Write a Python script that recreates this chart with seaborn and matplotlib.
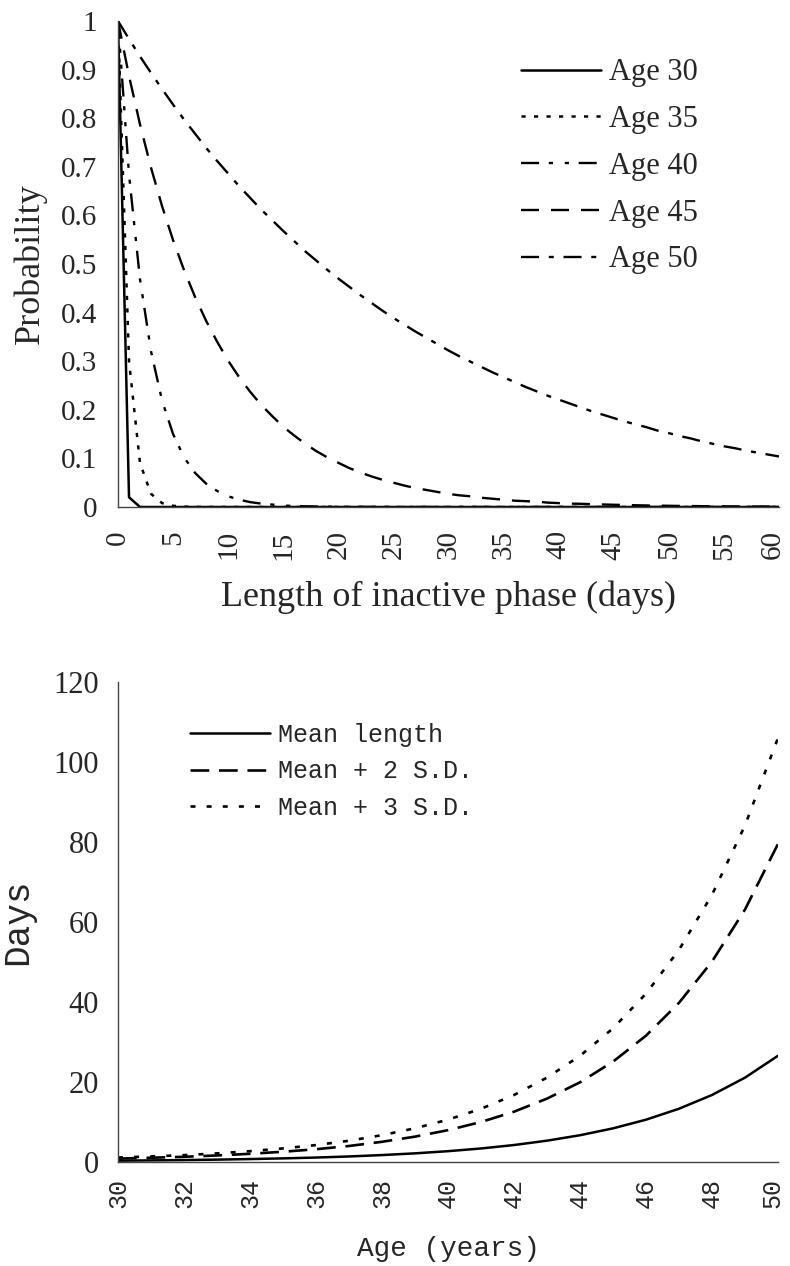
import matplotlib
matplotlib.use("Agg")
import matplotlib.pyplot as plt
from matplotlib.ticker import MultipleLocator, FixedLocator, FuncFormatter
from matplotlib.transforms import ScaledTranslation
import seaborn as sns
import pandas as pd

# ---------------- data: top panel (probability vs length of inactive phase) ----------------
days = list(range(61))
age30 = [1.0, 0.02, 0, 0, 0, 0, 0, 0, 0, 0,
         0, 0, 0, 0, 0, 0, 0, 0, 0, 0,
         0, 0, 0, 0, 0, 0, 0, 0, 0, 0,
         0, 0, 0, 0, 0, 0, 0, 0, 0, 0,
         0, 0, 0, 0, 0, 0, 0, 0, 0, 0,
         0, 0, 0, 0, 0, 0, 0, 0, 0, 0, 0]
age35 = [1.0, 0.30, 0.09, 0.027, 0.008, 0.0025, 0.0007, 0.0002, 0, 0,
         0, 0, 0, 0, 0, 0, 0, 0, 0, 0,
         0, 0, 0, 0, 0, 0, 0, 0, 0, 0,
         0, 0, 0, 0, 0, 0, 0, 0, 0, 0,
         0, 0, 0, 0, 0, 0, 0, 0, 0, 0,
         0, 0, 0, 0, 0, 0, 0, 0, 0, 0, 0]
age40 = [1.0, 0.684, 0.468, 0.320, 0.219, 0.150, 0.102, 0.070, 0.048, 0.033,
         0.022, 0.015, 0.010, 0.007, 0.005, 0.003, 0.002, 0.0015, 0.001, 0.0007,
         0.0005, 0.0003, 0.0002, 0.0001, 0, 0, 0, 0, 0, 0,
         0, 0, 0, 0, 0, 0, 0, 0, 0, 0,
         0, 0, 0, 0, 0, 0, 0, 0, 0, 0,
         0, 0, 0, 0, 0, 0, 0, 0, 0, 0, 0]
age45 = [1.0, 0.887, 0.787, 0.698, 0.619, 0.549, 0.487, 0.432, 0.383, 0.340,
         0.301, 0.267, 0.237, 0.210, 0.187, 0.165, 0.147, 0.130, 0.115, 0.102,
         0.091, 0.080, 0.071, 0.063, 0.056, 0.050, 0.044, 0.039, 0.035, 0.031,
         0.027, 0.024, 0.022, 0.019, 0.017, 0.015, 0.013, 0.012, 0.011, 0.009,
         0.008, 0.007, 0.0066, 0.0058, 0.0052, 0.0046, 0.0041, 0.0036, 0.0032, 0.0028,
         0.0025, 0.0022, 0.0020, 0.0017, 0.0015, 0.0014, 0.0012, 0.0011, 0.0010, 0.0009, 0.0008]
age50 = [1.0, 0.963, 0.927, 0.893, 0.860, 0.828, 0.797, 0.768, 0.739, 0.712,
         0.686, 0.660, 0.636, 0.612, 0.590, 0.568, 0.547, 0.526, 0.507, 0.488,
         0.470, 0.453, 0.436, 0.420, 0.404, 0.389, 0.375, 0.361, 0.348, 0.335,
         0.322, 0.310, 0.299, 0.288, 0.277, 0.267, 0.257, 0.247, 0.238, 0.229,
         0.221, 0.213, 0.205, 0.197, 0.190, 0.183, 0.176, 0.170, 0.164, 0.157,
         0.152, 0.146, 0.141, 0.135, 0.130, 0.125, 0.121, 0.116, 0.112, 0.108, 0.104]
top_labels = ["Age 30", "Age 35", "Age 40", "Age 45", "Age 50"]
top_xticks = [0, 5, 10, 15, 20, 25, 30, 35, 40, 45, 50, 55, 60]
top_yticks = [0, 0.1, 0.2, 0.3, 0.4, 0.5, 0.6, 0.7, 0.8, 0.9, 1]

# ---------------- data: bottom panel (days vs age) ----------------
ages = list(range(30, 51))
mean_len = [0.26, 0.33, 0.41, 0.52, 0.66, 0.83, 1.04, 1.31, 1.66, 2.09,
             2.63, 3.31, 4.17, 5.26, 6.62, 8.34, 10.51, 13.25, 16.69, 21.03, 26.5]
mean_2sd = [0.78, 0.99, 1.23, 1.56, 1.98, 2.49, 3.12, 3.93, 4.98, 6.27,
            7.89, 9.93, 12.51, 15.78, 19.86, 25.02, 31.53, 39.75, 50.07, 63.09, 79.5]
mean_3sd = [1.04, 1.32, 1.64, 2.08, 2.64, 3.32, 4.16, 5.24, 6.64, 8.36,
            10.52, 13.24, 16.68, 21.04, 26.48, 33.36, 42.04, 53.0, 66.76, 84.12, 106.0]
bottom_labels = ["Mean length", "Mean + 2 S.D.", "Mean + 3 S.D."]
bottom_xticks = [30, 32, 34, 36, 38, 40, 42, 44, 46, 48, 50]
bottom_yticks = [0, 20, 40, 60, 80, 100, 120]

# ---------------- style ----------------
sns.set_style("white")
plt.rcParams["font.family"] = ["Liberation Serif", "DejaVu Serif"]
plt.rcParams["lines.scale_dashes"] = False
SERIF = ["Liberation Serif", "DejaVu Serif"]
MONO = ["Liberation Mono", "DejaVu Sans Mono"]
SPINE = "#444444"

fig = plt.figure(figsize=(7.9, 12.66), dpi=100)
ax1 = fig.add_axes([118 / 790, 1 - 507 / 1266, 661 / 790, 486 / 1266])
ax2 = fig.add_axes([118 / 790, 1 - 1161.7 / 1266, 660 / 790, 479.7 / 1266])

# ---------------- top panel ----------------
top_df = pd.DataFrame({"day": days, "Age 30": age30, "Age 35": age35,
                       "Age 40": age40, "Age 45": age45, "Age 50": age50})
top_styles = {
    "Age 30": dict(linestyle="-", lw=1.8),
    "Age 35": dict(linestyle=(0, (3, 6)), lw=1.8),
    "Age 40": dict(linestyle=(0, (13, 7, 3, 8.5, 3, 7)), lw=1.7),
    "Age 45": dict(linestyle=(0, (13, 8.6)), lw=1.7),
    "Age 50": dict(linestyle=(0, (13, 7, 3.6, 7)), lw=1.7),
}
for lab in top_labels:
    sns.lineplot(data=top_df, x="day", y=lab, ax=ax1, color="black",
                 label=lab, errorbar=None, **top_styles[lab])

ax1.set_xlim(0, 60)
ax1.set_ylim(0, 1)
ax1.xaxis.set_major_locator(FixedLocator(top_xticks))
ax1.xaxis.set_minor_locator(MultipleLocator(1))
ax1.yaxis.set_major_locator(FixedLocator(top_yticks))
ax1.yaxis.set_minor_locator(MultipleLocator(0.05))
ax1.yaxis.set_major_formatter(FuncFormatter(lambda v, p: f"{v:g}"))
for s in ["top", "right"]:
    ax1.spines[s].set_visible(False)
for s in ["left", "bottom"]:
    ax1.spines[s].set_color(SPINE)
    ax1.spines[s].set_linewidth(1.0)
ax1.tick_params(axis="both", which="both", direction="out", length=5.8,
                width=0.8, color=SPINE, pad=9)
ax1.tick_params(axis="y", which="major", labelsize=21)
ax1.tick_params(axis="x", which="major", labelsize=21, labelrotation=90, pad=11)
for t in ax1.get_xticklabels() + ax1.get_yticklabels():
    t.set_fontfamily(SERIF)
ax1.set_xlabel("Length of inactive phase (days)", fontsize=26, family=SERIF)
ax1.set_ylabel("Probability", fontsize=26, family=SERIF)
ax1.xaxis.set_label_coords(0.5, -0.152)
ax1.yaxis.set_label_coords(-0.108, 0.5)
leg1 = ax1.legend(loc="upper left", bbox_to_anchor=(0.61, 0.923), frameon=False,
                  prop={"family": SERIF, "size": 22}, handlelength=2.6,
                  handletextpad=0.26, labelspacing=0.58, borderpad=0, borderaxespad=0)

# ---------------- bottom panel ----------------
bot_df = pd.DataFrame({"age": ages, "Mean length": mean_len,
                       "Mean + 2 S.D.": mean_2sd, "Mean + 3 S.D.": mean_3sd})
bot_styles = {
    "Mean length": dict(linestyle="-", lw=1.8),
    "Mean + 2 S.D.": dict(linestyle=(0, (13.5, 7)), lw=1.9),
    "Mean + 3 S.D.": dict(linestyle=(0, (3.6, 8)), lw=1.9),
}
for lab in bottom_labels:
    sns.lineplot(data=bot_df, x="age", y=lab, ax=ax2, color="black",
                 label=lab, errorbar=None, **bot_styles[lab])

ax2.set_xlim(30, 50)
ax2.set_ylim(0, 120)
ax2.xaxis.set_major_locator(FixedLocator(bottom_xticks))
ax2.xaxis.set_minor_locator(MultipleLocator(1))
ax2.yaxis.set_major_locator(FixedLocator(bottom_yticks))
for s in ["top", "right"]:
    ax2.spines[s].set_visible(False)
for s in ["left", "bottom"]:
    ax2.spines[s].set_color(SPINE)
    ax2.spines[s].set_linewidth(1.0)
ax2.tick_params(axis="both", which="both", direction="inout", length=13.5,
                width=0.8, color=SPINE)
ax2.tick_params(axis="x", which="major", labelsize=18, labelrotation=90, pad=5)
ax2.tick_params(axis="y", which="major", labelsize=22, pad=7)
for t in ax2.get_xticklabels():
    t.set_fontfamily(MONO)
for t in ax2.get_yticklabels():
    t.set_fontfamily(SERIF)
ax2.set_xlabel("Age (years)", fontsize=20, family=MONO)
ax2.set_ylabel("Days", fontsize=26, family=MONO)
ax2.xaxis.set_label_coords(0.5, -0.155)
ax2.yaxis.set_label_coords(-0.125, 0.5)
leg2 = ax2.legend(loc="upper left", bbox_to_anchor=(0.109, 0.915), frameon=False,
                  prop={"family": MONO, "size": 18}, handlelength=3.2,
                  handletextpad=0.32, labelspacing=0.5, borderpad=0, borderaxespad=0)

# keep the rightmost rotated labels inside the canvas
fig.canvas.draw()
for ax in (ax1, ax2):
    last = ax.get_xticklabels()[-1]
    last.set_transform(last.get_transform() +
                       ScaledTranslation(-6 / 100, 0, fig.dpi_scale_trans))

fig.savefig("out.png", dpi=100)
